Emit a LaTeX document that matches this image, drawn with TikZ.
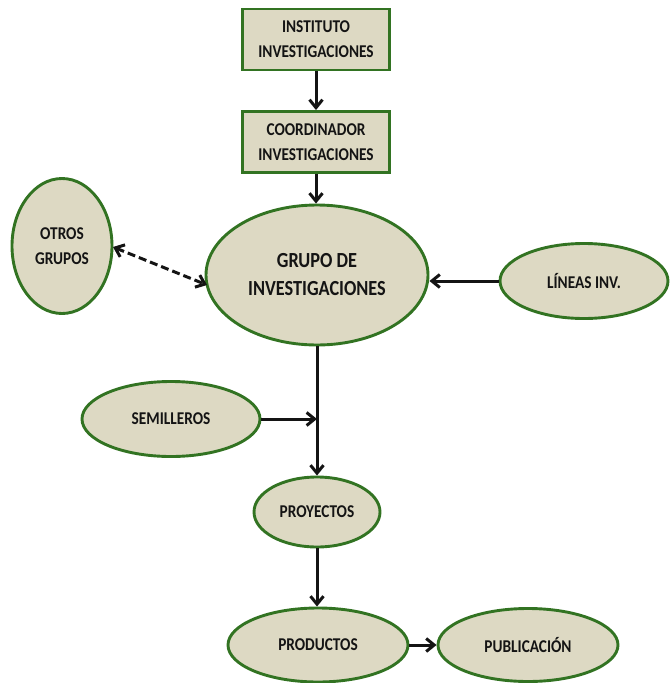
\documentclass[tikz,border=0pt]{standalone}
\usepackage{fontspec}
\setmainfont{Carlito}[FakeStretch=0.85]
\usetikzlibrary{arrows.meta,shapes.geometric}
\definecolor{boxfill}{RGB}{221,217,195}
\definecolor{boxline}{RGB}{50,115,34}
\definecolor{ink}{RGB}{20,20,20}
\tikzset{
  x=1pt, y=-1pt,
  barb/.tip={Straight Barb[length=8pt,width=13pt,line width=3pt]},
  base/.style={fill=boxfill, draw=boxline, line width=2.9pt, font=\bfseries\fontsize{18}{25}\selectfont, text=ink, align=center, inner sep=0pt},
  rectbox/.style={base, rectangle, minimum width=147pt, minimum height=61pt},
  oval/.style={base, ellipse},
  link/.style={line width=3pt, draw=ink, -{barb}},
  duallink/.style={line width=3pt, draw=ink, dash pattern=on 8pt off 4pt, {barb}-{barb}}
}
\begin{document}
\begin{tikzpicture}
\useasboundingbox (0,0) rectangle (671,683);
\node[rectbox] (inst) at (316,39.5) {INSTITUTO\\INVESTIGACIONES};
\node[rectbox] (coord) at (316,142) {COORDINADOR\\INVESTIGACIONES};
\node[oval, minimum width=222pt, minimum height=140pt, font=\bfseries\fontsize{21.5}{28}\selectfont] (grupo) at (317,275) {GRUPO DE\\INVESTIGACIONES};
\node[oval, minimum width=100pt, minimum height=135pt] (otros) at (62,246) {OTROS\\GRUPOS};
\node[oval, minimum width=168pt, minimum height=75pt] (lineas) at (584,281) {LÍNEAS INV.};
\node[oval, minimum width=178pt, minimum height=75pt] (semi) at (171,419) {SEMILLEROS};
\node[oval, minimum width=126pt, minimum height=70pt] (proy) at (317,512) {PROYECTOS};
\node[oval, minimum width=180pt, minimum height=74pt] (prod) at (318,645) {PRODUCTOS};
\node[oval, minimum width=180pt, minimum height=73pt] (publ) at (528,645) {PUBLICACIÓN};
\coordinate (join) at (317,419);
\coordinate (oe) at (113,247);
\coordinate (ge) at (207,285);

\draw[link] (inst) -- (coord);
\draw[link] (coord.south) -- (coord.south |- grupo.north);
\draw[duallink] (oe) -- (ge);
\draw[link] (lineas.west) -- (grupo.east |- lineas.west);
\draw[link] (grupo.south) -- (proy.north);
\draw[link] (semi.east) -- (join);
\draw[link] (proy.south) -- (prod.north -| proy.south);
\draw[link] (prod.east) -- (publ.west);
\end{tikzpicture}
\end{document}
